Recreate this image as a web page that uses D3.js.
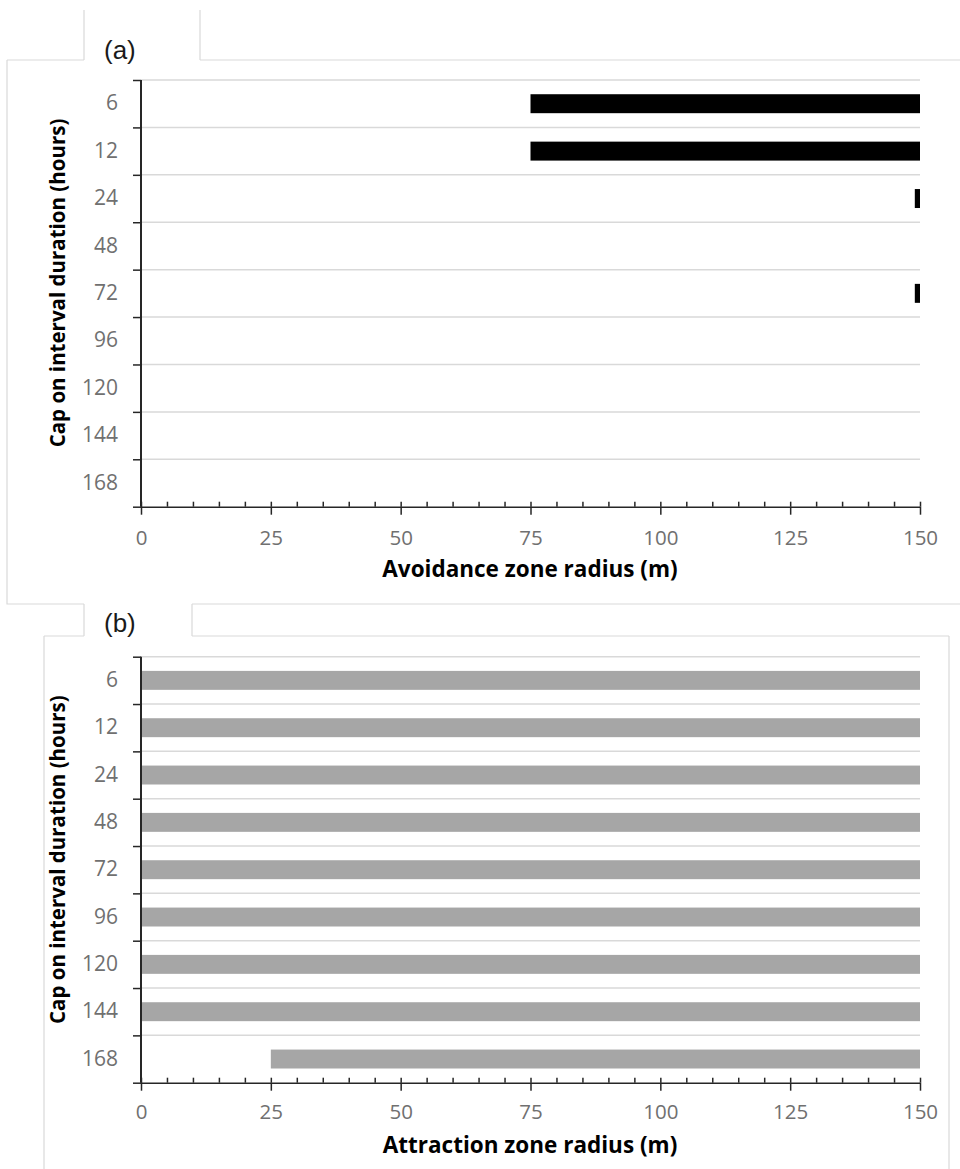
<!DOCTYPE html>
<html>
<head>
<meta charset="utf-8">
<script src="https://cdn.jsdelivr.net/npm/d3@7"></script>
<style>
  html, body { margin: 0; padding: 0; background: #fff; }
  svg { display: block; }
</style>
</head>
<body>
<svg id="chart" width="960" height="1169"></svg>
<script>
// Interval caps (hours), shared by both panels
const caps = ["6", "12", "24", "48", "72", "96", "120", "144", "168"];

// Panel (a): radii at which avoidance zones were retained [start, end] in metres
const avoidStart = [75, 75, 149, null, 149, null, null, null, null];
const avoidEnd   = [150, 150, 150, null, 150, null, null, null, null];

// Panel (b): radii at which attraction zones were retained [start, end] in metres
const attractStart = [0, 0, 0, 0, 0, 0, 0, 0, 25];
const attractEnd   = [150, 150, 150, 150, 150, 150, 150, 150, 150];

const xMajorTicks = [0, 25, 50, 75, 100, 125, 150];
const xMinorTicks = d3.range(0, 151, 5);

const labelFont = "'Open Sans', Lato, sans-serif";

const svg = d3.select("#chart");
const frame = "#d9d9d9";

// Outer frames and title tabs
const frames = [
  "M7,60H84", "M84,10V60", "M200,10V60", "M200,60H960",
  "M7,60V604H84", "M84,604V636", "M44,636H84", "M44,636V1169",
  "M192,604V636", "M192,604H960", "M192,636H949", "M949,636V1169"
];
svg.append("g").selectAll("path").data(frames).join("path")
  .attr("d", d => d).attr("fill", "none")
  .attr("stroke", frame).attr("stroke-width", 1.2);

const x = d3.scaleLinear().domain([0, 150]).range([141, 920]);

function panel(opts) {
  const { top, bottom, starts, ends, fill, letter, xTitle, labelPad } = opts;
  const g = svg.append("g");
  const y = d3.scaleBand().domain(caps).range([top, bottom]).padding(0);
  const yEdge = d3.scaleLinear().domain([0, caps.length]).range([top, bottom]);

  // Horizontal gridlines at category boundaries
  g.append("g").selectAll("line").data(d3.range(0, caps.length))
    .join("line")
    .attr("x1", x(0)).attr("x2", x(150))
    .attr("y1", d => yEdge(d)).attr("y2", d => yEdge(d))
    .attr("stroke", "#d9d9d9").attr("stroke-width", 1.5);

  // Floating bars
  const rows = caps.map((c, i) => ({ cap: c, s: starts[i], e: ends[i] }))
    .filter(d => d.s != null && d.e != null);
  const bh = y.bandwidth() * 0.4;
  g.append("g").selectAll("rect").data(rows).join("rect")
    .attr("x", d => x(d.s))
    .attr("width", d => x(d.e) - x(d.s))
    .attr("y", d => y(d.cap) + (y.bandwidth() - bh) / 2)
    .attr("height", bh)
    .attr("fill", fill);

  // Y axis: boundary ticks
  const yTicks = g.append("g").attr("transform", `translate(${x(0)},0)`)
    .call(d3.axisLeft(yEdge).tickValues(d3.range(0, caps.length + 1))
      .tickSize(8).tickFormat(""));
  yTicks.select(".domain").remove();
  yTicks.selectAll("line").attr("stroke", "#262626").attr("stroke-width", 1.5);

  // Y axis: category labels
  const yLab = g.append("g").attr("transform", `translate(${x(0)},0)`)
    .call(d3.axisLeft(y).tickSize(0).tickPadding(23));
  yLab.select(".domain").remove();
  yLab.selectAll("text")
    .attr("font-family", labelFont)
    .attr("font-size", 21).attr("fill", "#707070");

  // Y axis line
  g.append("line")
    .attr("x1", x(0)).attr("x2", x(0)).attr("y1", top).attr("y2", bottom)
    .attr("stroke", "#262626").attr("stroke-width", 2);

  // X axis: minor + major ticks above the line
  const xUp = g.append("g").attr("transform", `translate(0,${bottom})`)
    .call(d3.axisTop(x).tickValues(xMinorTicks).tickSize(5).tickFormat(""));
  xUp.select(".domain").remove();
  xUp.selectAll("line").attr("stroke", "#262626").attr("stroke-width", 1.5);

  // X axis: major ticks below the line, with labels
  const xDown = g.append("g").attr("transform", `translate(0,${bottom})`)
    .call(d3.axisBottom(x).tickValues(xMajorTicks).tickSize(8).tickPadding(labelPad));
  xDown.select(".domain").attr("stroke", "#262626").attr("stroke-width", 1.5)
    .attr("d", `M${x(0)},0.5H${x(150)}`);
  xDown.selectAll("line").attr("stroke", "#262626").attr("stroke-width", 1.5);
  xDown.selectAll("text")
    .attr("font-family", labelFont)
    .attr("font-size", 20.5).attr("fill", "#707070");

  // Axis titles
  g.append("text")
    .attr("x", 530).attr("y", opts.xTitleY)
    .attr("text-anchor", "middle")
    .attr("font-family", labelFont)
    .attr("font-weight", "bold").attr("font-size", 22.5).attr("fill", "#000")
    .text(xTitle);

  g.append("text")
    .attr("transform", `translate(65,${top + 203}) rotate(-90)`)
    .attr("text-anchor", "middle")
    .attr("font-family", labelFont)
    .attr("font-weight", "bold").attr("font-size", 20.5).attr("fill", "#000")
    .text("Cap on interval duration (hours)");

  // Panel letter
  g.append("text")
    .attr("x", 104).attr("y", opts.letterY)
    .attr("font-family", "'Liberation Sans', Arial, sans-serif")
    .attr("font-size", 26).attr("fill", "#1a1a1a")
    .text(letter);
}

panel({
  top: 80, bottom: 506.7, starts: avoidStart, ends: avoidEnd, fill: "#000",
  letter: "(a)", letterY: 59, xTitle: "Avoidance zone radius (m)",
  xTitleY: 577, labelPad: 16
});

panel({
  top: 656.7, bottom: 1082.7, starts: attractStart, ends: attractEnd, fill: "#a6a6a6",
  letter: "(b)", letterY: 632, xTitle: "Attraction zone radius (m)",
  xTitleY: 1153, labelPad: 14
});
</script>
</body>
</html>
